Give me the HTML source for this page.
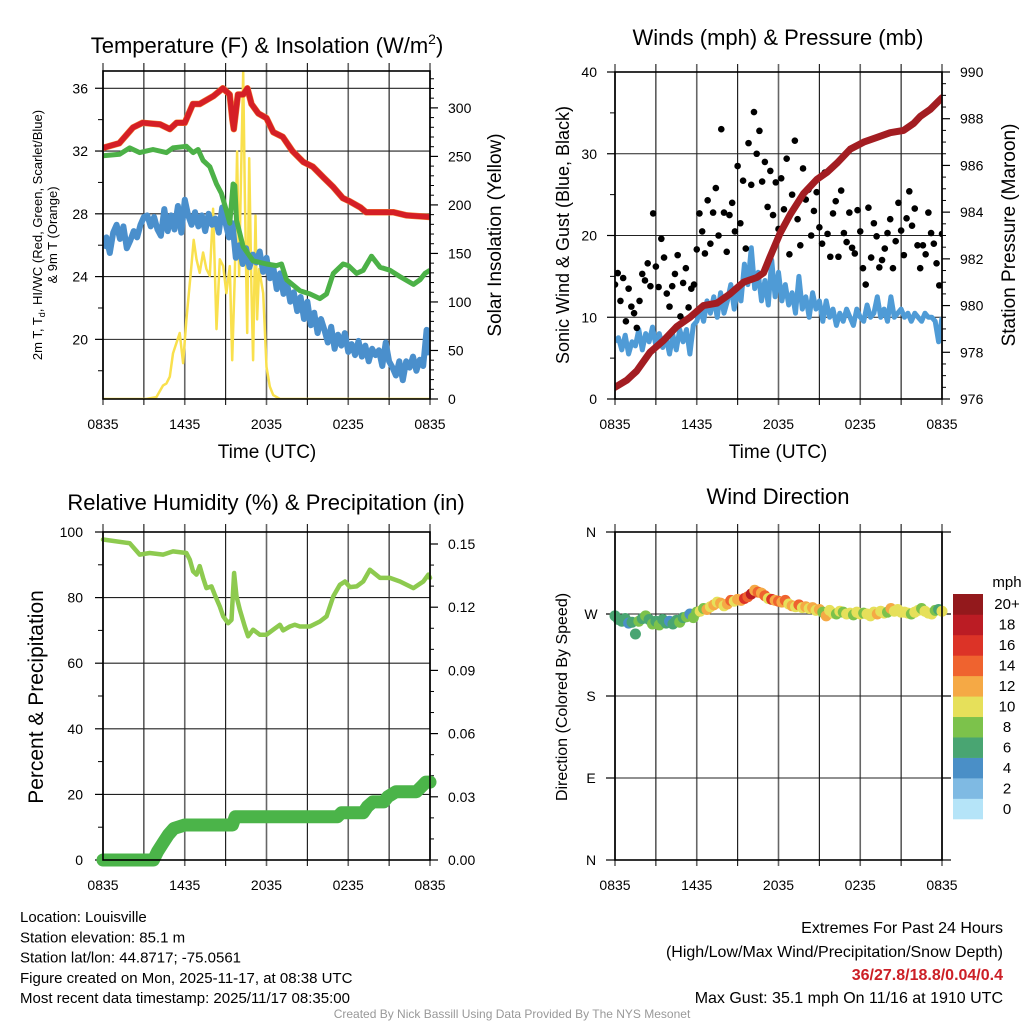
<!DOCTYPE html>
<html><head><meta charset="utf-8">
<style>
html,body{margin:0;padding:0;background:#fff;}
svg{display:block;font-family:"Liberation Sans",sans-serif;}
</style></head>
<body>
<svg id="root" width="1024" height="1024" viewBox="0 0 1024 1024" xmlns="http://www.w3.org/2000/svg"></svg>
<script>
// ---------- DATA ----------
const xTickLabels = ["0835","1435","2035","0235","0835"];
// Panel 1
const tempTicks = [20,24,28,32,36];
const insolTicks = [0,50,100,150,200,250,300];
const tempHours = [0,1.2,2.2,2.9,4.2,4.9,5.4,6.0,6.6,7.1,8.1,8.8,9.3,9.5,9.6,9.9,10.3,10.6,10.9,11.4,12.0,12.5,13.2,13.9,14.7,15.4,16.2,16.9,17.6,18.1,18.9,19.3,20.6,21.3,22.3,24];
const tempValues = [32.2,32.5,33.5,33.8,33.7,33.4,33.8,33.8,35.0,35.0,35.5,36.0,35.6,34.0,33.4,35.6,35.6,36.0,35.0,34.4,34.1,33.2,32.9,32.0,31.3,31.0,30.3,29.7,29.0,28.8,28.4,28.1,28.1,28.1,27.9,27.8];
const dewHours = [0,1.22,1.96,2.69,3.67,4.65,5.14,6.12,6.61,6.98,7.35,7.84,8.33,8.69,9.06,9.31,9.55,9.67,9.80,10.29,11.02,12.0,12.73,13.1,13.47,14.45,15.18,15.92,16.41,16.9,17.63,18.0,18.61,19.1,19.71,20.33,21.06,21.8,22.78,23.27,23.63,24];
const dewValues = [31.7,31.8,32.2,31.9,32.1,31.9,32.2,32.3,31.9,32.1,31.4,31.0,29.9,29.3,28.2,27.4,29.9,29.8,27.6,25.9,25.0,24.8,24.7,24.8,23.8,23.1,22.9,22.6,22.9,24.2,24.8,24.7,24.2,24.4,25.3,24.6,24.4,24.0,23.5,23.8,24.2,24.4];
const chillValues = [25.8,26.5,25.5,26.8,27.3,26.4,27.2,25.8,26.3,26.9,26.5,27.3,27.8,27.9,27.2,27.8,27.0,26.6,28.3,26.9,27.9,27.0,28.5,26.8,28.9,27.9,27.3,28.1,27.2,27.9,26.9,28.0,27.3,27.7,26.8,28.4,27.4,26.5,27.4,25.2,26.0,24.8,25.8,24.6,25.4,24.9,25.6,24.3,25.2,23.9,24.6,23.2,24.2,22.9,23.6,22.4,23.0,21.8,22.7,21.3,22.4,20.9,21.7,20.4,21.3,20.6,19.8,20.8,19.4,20.3,19.6,20.4,19.2,19.7,19.0,19.9,18.9,19.6,18.6,19.4,19.0,19.3,18.3,19.8,18.6,18.2,17.7,18.6,17.4,18.6,18.2,18.9,18.0,18.7,18.3,20.6,19.0];
const insolHours = [0,3.18,3.92,4.41,4.65,4.90,5.14,5.63,5.88,6.12,6.49,6.66,6.86,7.10,7.35,7.59,7.84,8.08,8.33,8.57,8.82,9.06,9.31,9.48,9.67,9.84,9.99,10.11,10.29,10.41,10.58,10.73,10.90,11.02,11.19,11.31,11.46,11.76,12.0,12.24,12.49,12.98,24];
const insolValues = [0,0,2,14,16,23,47,68,37,82,137,164,144,130,151,134,127,196,72,144,137,109,137,40,127,255,127,213,337,213,68,248,110,40,189,82,134,109,33,13,4,0,0];
// Panel 2
const windTicks = [0,10,20,30,40];
const presTicks = [976,978,980,982,984,986,988,990];
const windValues = [7.0,7.5,6.0,7.8,5.5,7.0,6.5,8.5,6.0,8.0,7.0,8.8,6.5,8.0,6.3,7.5,5.5,7.8,6.0,8.5,7.0,8.5,5.5,9.0,9.5,11.0,9.5,12.0,10.5,12.5,10.0,13.0,10.5,12.0,14.0,11.0,13.5,12.0,16.5,14.0,18.5,13.5,15.5,12.0,14.5,11.5,17.0,12.5,15.5,12.0,14.0,11.5,13.0,10.5,15.0,11.0,12.5,10.0,13.0,11.0,12.0,9.5,12.0,10.0,11.0,9.0,10.5,9.5,11.0,10.0,9.0,11.0,10.0,9.5,11.5,10.0,10.5,12.5,10.0,11.0,9.5,12.5,10.0,10.5,11.0,10.0,10.5,9.5,10.5,10.0,9.5,10.5,10.0,10.0,9.5,7.0,10.0];
const gustValues = [14,15.4,12,14.8,9.5,13.5,11.3,10.5,8.7,12,15.3,14.5,16.6,13.8,22.7,16.2,13.7,19.6,17.3,12.9,11.3,13.8,15.3,17.6,10.1,14.2,16.0,11.2,13.5,14.0,18.3,22.7,20.5,17.8,24.3,19.0,22.8,25.8,20.0,33.0,22.8,18.0,22.5,24.0,20.5,28.5,21.5,26.7,18.4,31.3,26.2,35.1,30.0,32.8,26.6,29.0,23.5,27.9,22.5,26.5,20.8,27.0,23.2,29.4,17.7,25.0,31.6,22.0,18.8,28.2,24.4,25.6,20.0,23.0,25.3,21.0,19.0,27.7,20.2,17.4,22.7,24.2,17.4,25.5,20.3,19.2,22.8,18.5,17.8,23.1,20.5,16.0,14.0,23.4,17.3,21.5,19.9,16.1,17.0,18.4,20.3,22.0,16.0,19.3,24.0,20.6,17.6,22.1,25.4,21.2,23.3,18.8,16.0,18.8,17.7,22.8,20.3,19.0,16.6,13.9,20.2];
const presHours = [0,0.86,1.59,2.57,3.55,4.53,5.51,6.49,7.47,8.45,9.43,10.41,10.9,11.39,12.12,12.86,13.84,14.82,15.55,16.29,17.27,18.25,19.22,20.2,21.18,21.92,22.41,23.14,24];
const presValues = [976.5,976.8,977.2,978.0,978.5,979.1,979.5,980.0,980.1,980.5,981.0,981.2,981.4,982.1,983.1,983.9,984.8,985.4,985.7,986.1,986.7,987.0,987.2,987.4,987.5,987.8,988.1,988.4,988.9];
// Panel 3
const rhTicks = [0,20,40,60,80,100];
const precipTicks = ["0.00","0.03","0.06","0.09","0.12","0.15"];
const rhHours = [0,1.96,2.69,3.43,4.41,5.14,6.12,6.37,6.61,6.86,7.10,7.35,7.59,7.96,8.20,8.57,8.82,9.18,9.43,9.62,9.80,10.04,10.41,10.65,11.02,11.51,12.0,12.49,12.98,13.22,13.71,14.08,14.45,15.18,15.92,16.41,16.9,17.39,17.76,18.12,18.61,19.1,19.59,20.33,21.06,21.8,22.78,23.51,23.88,24];
const rhValues = [97.7,96.6,93.1,93.6,93.1,94.1,93.6,91.6,88,87,89.6,86,82.9,83.4,80.9,77.3,74.3,72.2,73.2,87.5,80.4,76.3,71.2,68.2,70.2,68.7,68.7,70.2,71.7,70.0,71.2,71.7,71.2,71.2,72.7,74.3,80.4,83.9,84.9,83.2,83.4,84.9,88.5,86,86,84.9,82.9,84.9,87,86];
const precipHours = [0,3.7,4.0,4.4,4.8,5.2,6.0,9.5,9.7,17.2,17.5,19.1,19.4,19.8,20.6,20.9,21.5,23.0,23.4,23.7,24];
const precipValues = [0,0,0.004,0.008,0.012,0.015,0.0166,0.0166,0.0205,0.0205,0.0224,0.0224,0.0253,0.0276,0.0276,0.03,0.0324,0.0324,0.035,0.037,0.037];
// Panel 4
const dirLabels = ["N","W","S","E","N"];
const dirTickValues = [360,270,180,90,0];
const dirValues = [268,264,262,265,260,261,248,262,265,268,264,259,262,258,264,260,262,259,263,261,266,267,270,266,272,273,276,275,278,280,283,282,279,281,285,284,286,285,287,289,292,296,294,293,290,287,286,285,284,283,285,281,279,278,280,277,278,276,277,274,275,272,268,274,271,270,273,272,270,271,269,272,270,271,270,268,272,270,273,271,272,276,273,275,272,272,271,270,272,274,276,273,271,270,274,275,273];
const speedBins = ["0","2","4","6","8","10","12","14","16","18","20+"];
const binColors = ["#b5e4f8","#7fbae3","#4a8fc7","#49a572","#7cc24b","#e6e05a","#f5a945","#ef632f","#dc3327","#bb1c24","#93191c"];

// ---------- HELPERS ----------
const NS="http://www.w3.org/2000/svg";
const root=document.getElementById('root');
function mk(tag,attrs,parent){const e=document.createElementNS(NS,tag);for(const k in attrs)e.setAttribute(k,attrs[k]);(parent||root).appendChild(e);return e;}
function txt(s,x,y,size,anchor,parent,extra){const e=mk('text',Object.assign({x:x,y:y,'font-size':size,'text-anchor':anchor||'middle',fill:'#000'},extra||{}),parent);e.textContent=s;return e;}
function lin(d0,d1,r0,r1){return v=>r0+(v-d0)/(d1-d0)*(r1-r0);}
function pathFrom(xs,ys){let d='';for(let i=0;i<xs.length;i++)d+=(i?'L':'M')+xs[i].toFixed(1)+','+ys[i].toFixed(1);return d;}
function idxHours(arr,span){return arr.map((v,i)=>i*span/(arr.length-1));}

function frame(g,L,T,R,B,hGridYs){
  const xs=lin(0,24,L,R);
  for(let h=0;h<=24;h+=3){const x=xs(h);
    const gl=mk('line',{x1:x,y1:T-8,x2:x,y2:B+6,stroke:(h%6===0)?'#666':'#111','stroke-width':(h%6===0)?1.6:1.1},g);
    
    
  }
  hGridYs.forEach(y=>{const hl=mk('line',{x1:L,y1:y,x2:R,y2:y,stroke:'#222','stroke-width':1.1},g);
    
    });
  for(let i=0;i<5;i++){const t=txt(xTickLabels[i],xs(i*6),B+30,14,'middle',g);
    
    }
  return xs;
}
function border(g,L,T,R,B){const r=mk('rect',{x:L,y:T,width:R-L,height:B-T,fill:'none',stroke:'#000','stroke-width':1.6},g);
  
  }
function yTicks(g,x,dir,ys,len,w){ys.forEach(y=>{mk('line',{x1:x,y1:y,x2:x+dir*len,y2:y,stroke:'#000','stroke-width':w||1},g);});}

// ---------- PANEL 1 ----------
(function(){
  const g=mk('g',{});
  
  
  const L=103,T=71,R=430,B=399;
  const yT=lin(16.2,37.1,B,T), yI=lin(0,338,B,T);
  const xs=frame(g,L,T,R,B,tempTicks.map(yT));
  yTicks(g,L,-1,tempTicks.map(yT),8,1.2);
  const minorT=[18,22,26,30,34];yTicks(g,L,-1,minorT.map(yT),5);
  tempTicks.forEach(v=>{const t=txt(String(v),88,yT(v)+5,14,'end',g);
    
    });
  yTicks(g,R,1,insolTicks.map(yI),8,1.2);
  const mi=[];for(let v=10;v<=330;v+=10)if(v%50)mi.push(yI(v));yTicks(g,R,1,mi,4);
  insolTicks.forEach(v=>{const t=txt(String(v),448,yI(v)+5,14,'start',g);
    
    });
  const clip=mk('clipPath',{id:'c1'},g);mk('rect',{x:L,y:T-2,width:R-L,height:B-T+2},clip);
  const s=mk('g',{'clip-path':'url(#c1)'},g);
  const ins=mk('path',{d:pathFrom(insolHours.map(xs),insolValues.map(yI)),fill:'none',stroke:'#f9e04d','stroke-width':2.5,'stroke-linejoin':'round'},s);
  
  
  const ch=mk('path',{d:pathFrom(idxHours(chillValues,24).map(xs),chillValues.map(yT)),fill:'none',stroke:'#4a8fcc','stroke-width':6,'stroke-linejoin':'round'},s);
  
  
  const dw=mk('path',{d:pathFrom(dewHours.map(xs),dewValues.map(yT)),fill:'none',stroke:'#4cb147','stroke-width':5,'stroke-linejoin':'round'},s);
  
  
  const or=mk('path',{d:pathFrom(tempHours.map(xs),tempValues.map(yT)),fill:'none',stroke:'#f37f2f','stroke-width':6.5,'stroke-linejoin':'round'},s);
  
  
  const tp=mk('path',{d:pathFrom(tempHours.map(xs),tempValues.map(yT)),fill:'none',stroke:'#d51f26','stroke-width':5.5,'stroke-linejoin':'round'},s);
  
  
  border(g,L,T,R,B);
  const ti=txt('',267,53,22,'middle',g);
  
  
  ti.innerHTML='Temperature (F) &amp; Insolation (W/m<tspan dy="-9" font-size="14">2</tspan><tspan dy="9">)</tspan>';
  const xt=txt('Time (UTC)',267,458,19,'middle',g);
  
  
  const y1=txt('2m T, T',0,0,13,'middle',g,{transform:'translate(42,235) rotate(-90)'});
  
  
  y1.innerHTML='2m T, T<tspan font-size="9" dy="3">d</tspan><tspan dy="-3">, HI/WC (Red, Green, Scarlet/Blue)</tspan>';
  const y2=txt('& 9m T (Orange)',0,0,13,'middle',g,{transform:'translate(57,235) rotate(-90)'});
  
  
  const yr=txt('Solar Insolation (Yellow)',0,0,19,'middle',g,{transform:'translate(501,235) rotate(-90)'});
  
  
})();

// ---------- PANEL 2 ----------
(function(){
  const g=mk('g',{});
  
  
  const L=615,T=72,R=942,B=399;
  const yW=lin(0,40,B,T), yP=lin(976,990,B,T);
  const xs=frame(g,L,T,R,B,windTicks.map(yW));
  yTicks(g,L,-1,windTicks.map(yW),8,1.2);yTicks(g,L,-1,[5,15,25,35].map(yW),5);
  windTicks.forEach(v=>{const t=txt(String(v),597,yW(v)+5,14,'end',g);
    
    });
  yTicks(g,R,1,presTicks.map(yP),8,1.2);
  const mp=[];for(let v=976.5;v<990;v+=0.5)if(v%2)mp.push(yP(v));yTicks(g,R,1,mp,4);
  presTicks.forEach(v=>{const t=txt(String(v),960,yP(v)+5,14,'start',g);
    
    });
  const clip=mk('clipPath',{id:'c2'},g);mk('rect',{x:L,y:T,width:R-L,height:B-T},clip);
  const s=mk('g',{'clip-path':'url(#c2)'},g);
  const wl=mk('path',{d:pathFrom(idxHours(windValues,24).map(xs),windValues.map(yW)),fill:'none',stroke:'#4f9bd6','stroke-width':5,'stroke-linejoin':'round'},s);
  
  
  const gh=idxHours(gustValues,24);
  gustValues.forEach((v,i)=>{const c=mk('circle',{cx:xs(gh[i]),cy:yW(v),r:3.3,fill:'#000'},s);
    
    });
  const pl=mk('path',{d:pathFrom(presHours.map(xs),presValues.map(yP)),fill:'none',stroke:'#a31d22','stroke-width':7,'stroke-linejoin':'round','stroke-linecap':'round'},s);
  
  
  border(g,L,T,R,B);
  const ti=txt('Winds (mph) & Pressure (mb)',778,45,22,'middle',g);
  
  
  const xt=txt('Time (UTC)',778,458,19,'middle',g);
  
  
  const yl=txt('Sonic Wind & Gust (Blue, Black)',0,0,18,'middle',g,{transform:'translate(569,235) rotate(-90)'});
  
  
  const yr=txt('Station Pressure (Maroon)',0,0,19,'middle',g,{transform:'translate(1015,235) rotate(-90)'});
  
  
})();

// ---------- PANEL 3 ----------
(function(){
  const g=mk('g',{});
  
  
  const L=103,T=532,R=430,B=860;
  const yR=lin(0,100,B,T), yPr=lin(0,0.15,B,544);
  const xs=frame(g,L,T,R,B,rhTicks.slice(1,5).map(yR));
  yTicks(g,L,-1,rhTicks.map(yR),8,1.2);yTicks(g,L,-1,[10,30,50,70,90].map(yR),5);
  rhTicks.forEach(v=>{const t=txt(String(v),83,yR(v)+5,14,'end',g);
    
    });
  yTicks(g,R,1,precipTicks.map(v=>yPr(+v)),8,1.2);
  const mpr=[];for(let k=1;k<16;k++)if(k%3)mpr.push(yPr(k*0.01));yTicks(g,R,1,mpr,4);
  precipTicks.forEach(v=>{const t=txt(v,448,yPr(+v)+5,14,'start',g);
    
    });
  const rl=mk('path',{d:pathFrom(rhHours.map(xs),rhValues.map(yR)),fill:'none',stroke:'#8dca4f','stroke-width':4.5,'stroke-linejoin':'round','stroke-linecap':'round'},g);
  
  
  const pr=mk('path',{d:pathFrom(precipHours.map(xs),precipValues.map(yPr)),fill:'none',stroke:'#4bb449','stroke-width':13,'stroke-linejoin':'round','stroke-linecap':'round'},g);
  
  
  border(g,L,T,R,B);
  const ti=txt('Relative Humidity (%) & Precipitation (in)',266,510,22,'middle',g);
  
  
  const yl=txt('Percent & Precipitation',0,0,21,'middle',g,{transform:'translate(43,697) rotate(-90)'});
  
  
})();

// ---------- PANEL 4 ----------
(function(){
  const g=mk('g',{});
  
  
  const L=615,T=532,R=942,B=860;
  const yD=lin(0,360,B,T);
  const xs=frame(g,L,T,R,B,[270,180,90].map(yD));
  yTicks(g,L,-1,dirTickValues.map(yD),9,1.2);
  yTicks(g,R,1,dirTickValues.map(yD),9,1.2);
  dirLabels.forEach((s,i)=>{const t=txt(s,591,yD(dirTickValues[i])+5,14,'middle',g);
    
    });
  const dh=idxHours(dirValues,24);
  const binOf=v=>Math.min(10,Math.max(0,Math.floor(v/2)));
  dirValues.forEach((v,i)=>{const c=mk('circle',{cx:xs(dh[i]),cy:yD(v),r:5.5,fill:binColors[binOf(windValues[i])]},g);
    
    });
  border(g,L,T,R,B);
  const ti=txt('Wind Direction',778,504,22,'middle',g);
  
  
  const yl=txt('Direction (Colored By Speed)',0,0,16,'middle',g,{transform:'translate(567,697) rotate(-90)'});
  
  
  const cb=mk('g',{},g);
  
  
  const bh=(819-594)/speedBins.length;
  speedBins.forEach((s,i)=>{const yy=819-(i+1)*bh;
    const r=mk('rect',{x:953,y:yy,width:30,height:bh+0.3,fill:binColors[i]},cb);
    
    
    const t=txt(s,1007,yy+bh/2+5,15,'middle',cb);
    
    });
  const u=txt('mph',1007,587,15,'middle',cb);
  
  
})();

// ---------- FOOTER TEXT ----------
(function(){
  const g=mk('g',{});
  
  
  const lines=["Location: Louisville","Station elevation: 85.1 m","Station lat/lon: 44.8717; -75.0561","Figure created on Mon, 2025-11-17, at 08:38 UTC","Most recent data timestamp: 2025/11/17 08:35:00"];
  lines.forEach((s,i)=>{const t=txt(s,20,922+i*20.3,15,'start',g);
    
    });
  const g2=mk('g',{});
  
  
  const a=txt('Extremes For Past 24 Hours',1003,933,16,'end',g2);
  
  
  const b=txt('(High/Low/Max Wind/Precipitation/Snow Depth)',1003,957,16,'end',g2);
  
  
  const c=txt('36/27.8/18.8/0.04/0.4',1003,980,16,'end',g2,{fill:'#cc1f26','font-weight':'bold'});
  
  
  const d=txt('Max Gust: 35.1 mph On 11/16 at 1910 UTC',1003,1003,16,'end',g2);
  
  
  const f=txt('Created By Nick Bassill Using Data Provided By The NYS Mesonet',512,1018,12,'middle',null,{fill:'#999'});
  
  
})();
</script>
</body></html>
